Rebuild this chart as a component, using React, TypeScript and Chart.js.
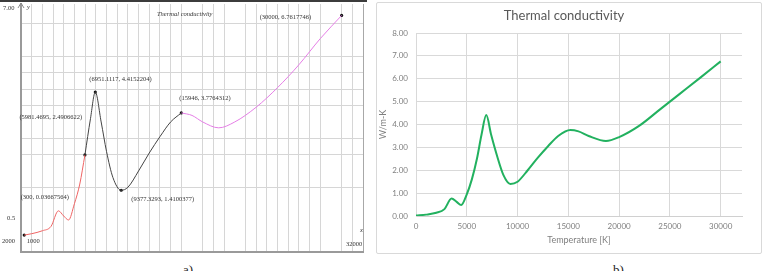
import React, { useEffect, useRef } from "react";
import { Chart, registerables } from "chart.js";
Chart.register(...registerables);

// ---------- Panel a) data ----------
const redX = [300, 1000, 2000, 2800, 3500, 4000, 4450, 5000, 5500, 5981.4695];
const redY = [0.037, 0.08, 0.17, 0.3, 0.78, 0.62, 0.5, 1.0, 1.6, 2.49];
const blackX = [5981.4695, 6500, 6951.1117, 7500, 8000, 8600, 9377.3293, 10000, 11000, 12000, 13000, 14000, 15000];
const blackY = [2.49, 3.6, 4.415, 3.5, 2.6, 1.8, 1.41, 1.5, 2.0, 2.55, 3.05, 3.5, 3.776];
const pinkX = [15000, 16000, 17000, 18500, 20000, 22000, 24000, 26000, 28000, 30000];
const pinkY = [3.776, 3.7, 3.5, 3.32, 3.5, 3.95, 4.55, 5.25, 6.05, 6.76];
const markX = [300, 5981.4695, 6951.1117, 9377.3293, 15000, 30000];
const markY = [0.037, 2.49, 4.415, 1.41, 3.776, 6.76];
const markLabels = [
  "(300, 0.03667564)",
  "(5981.4695, 2.4906622)",
  "(6951.1117, 4.4152204)",
  "(9377.3293, 1.4100377)",
  "(15946, 3.7764312)",
  "(30000, 6.7617746)",
];
const aGridX = [
  1000, 2000, 3000, 4000, 5000, 6000, 7000, 8000, 9000, 10000, 11000, 12000, 13000, 14000, 15000,
  17000, 18000, 19000, 21000, 22000, 23000, 24000, 25000, 26000, 27000, 28000, 30000, 31000, 32000,
];
const aGridY = [1.5, 2.5, 3, 4, 4.5, 5, 5.5, 6.5];
const aTitle = "Thermal conductivity";

// ---------- Panel b) data ----------
const bX = [0, 1000, 2000, 2800, 3500, 4000, 4450, 5000, 5500, 6000, 6450, 6920, 7400, 8000, 8600, 9300, 10000, 11000, 12000, 13000, 14000, 15200, 16000, 17000, 18700, 20000, 22000, 24000, 26000, 28000, 30000];
const bY = [0.02, 0.06, 0.14, 0.3, 0.76, 0.62, 0.48, 0.95, 1.6, 2.5, 3.55, 4.41, 3.55, 2.6, 1.8, 1.4, 1.5, 2.0, 2.55, 3.05, 3.5, 3.76, 3.7, 3.5, 3.28, 3.45, 3.95, 4.65, 5.35, 6.05, 6.76];
const bTicksX = [0, 5000, 10000, 15000, 20000, 25000, 30000];
const bTicksY = [0, 1, 2, 3, 4, 5, 6, 7, 8];
const bTitle = "Thermal conductivity";
const bXTitle = "Temperature [K]";
const bYTitle = "W/m-K";

const SERIF = "'Liberation Serif', 'DejaVu Serif', serif";
const SANS = "Lato, 'Noto Sans', sans-serif";

const pts = (xs: number[], ys: number[]) => xs.map((x, i) => ({ x, y: ys[i] }));

function PanelA() {
  const ref = useRef<HTMLCanvasElement | null>(null);
  useEffect(() => {
    if (!ref.current) return;
    const labelOffsets = [
      [-3.5, -38],
      [-65.5, -38],
      [-6, -13],
      [10, 9],
      [-2, -15],
      [-82, 1.5],
    ];
    const annot = {
      id: "annotA",
      afterDraw(chart: any) {
        const { ctx, scales } = chart;
        const xs = scales.x;
        const ys = scales.y;
        ctx.save();
        ctx.fillStyle = "#3c3c3c";
        ctx.fillRect(0, 0, 367, 2);
        const ax = xs.getPixelForValue(0);
        ctx.strokeStyle = "#8a8a8a";
        ctx.lineWidth = 1;
        ctx.beginPath();
        ctx.moveTo(ax - 3, 8);
        ctx.lineTo(ax, 3);
        ctx.lineTo(ax + 3, 8);
        ctx.stroke();
        ctx.fillStyle = "#333";
        ctx.textBaseline = "middle";
        ctx.textAlign = "left";
        ctx.font = `6.5px ${SERIF}`;
        markLabels.forEach((t, i) => {
          const px = xs.getPixelForValue(markX[i]);
          const py = ys.getPixelForValue(markY[i]);
          ctx.fillText(t, px + labelOffsets[i][0], py + labelOffsets[i][1]);
        });
        ctx.fillText("7.00", 3, ys.getPixelForValue(7) + 1);
        ctx.fillText("0.5", 7, ys.getPixelForValue(0.55));
        ctx.fillText("2000", 2, 241);
        ctx.fillText("1000", xs.getPixelForValue(1000) - 5, 241);
        ctx.fillText("32000", xs.getPixelForValue(32000) - 17, 244);
        ctx.font = `italic 6.5px ${SERIF}`;
        ctx.fillText("y", ax + 6, 7);
        ctx.fillText("x", xs.getPixelForValue(32000) - 3, 230);
        ctx.fillText(aTitle, 157, 14);
        ctx.restore();
      },
    };
    const chart = new Chart(ref.current, {
      type: "line",
      data: {
        datasets: [
          { data: pts(redX, redY), borderColor: "#ef6464", borderWidth: 1, pointRadius: 0, cubicInterpolationMode: "monotone" },
          { data: pts(blackX, blackY), borderColor: "#444444", borderWidth: 1, pointRadius: 0, cubicInterpolationMode: "monotone" },
          { data: pts(pinkX, pinkY), borderColor: "#e57ee6", borderWidth: 1, pointRadius: 0, cubicInterpolationMode: "monotone" },
          { data: pts(markX, markY), showLine: false, pointRadius: 1.6, pointBackgroundColor: "#111", pointBorderWidth: 0 },
        ] as any,
      },
      options: {
        animation: false,
        responsive: false,
        layout: { padding: { left: 21, top: 2, right: 2, bottom: 2 } },
        plugins: { legend: { display: false }, tooltip: { enabled: false } },
        scales: {
          x: {
            type: "linear",
            min: 0,
            max: 32000,
            afterBuildTicks: (s: any) => { s.ticks = aGridX.map((v) => ({ value: v })); },
            ticks: { display: false },
            grid: { color: (c: any) => (c.tick && c.tick.value === 32000 ? "#a8a8a8" : "#d6d6d6"), drawTicks: false },
            border: { color: "#9a9a9a", width: 2 },
            afterFit: (s: any) => { s.height = 0; },
          },
          y: {
            type: "linear",
            min: -0.48,
            max: 7.11,
            afterBuildTicks: (s: any) => { s.ticks = aGridY.map((v) => ({ value: v })); },
            ticks: { display: false },
            grid: { color: "#d6d6d6", drawTicks: false },
            border: { color: "#9a9a9a", width: 2 },
            afterFit: (s: any) => { s.width = 0; },
          },
        },
      } as any,
      plugins: [annot],
    });
    return () => chart.destroy();
  }, []);
  return (
    <div style={{ position: "absolute", left: 0, top: 0, width: 367, height: 256 }}>
      <canvas ref={ref} width={367} height={256} style={{ width: 367, height: 256, display: "block" }} />
    </div>
  );
}

function PanelB() {
  const ref = useRef<HTMLCanvasElement | null>(null);
  useEffect(() => {
    if (!ref.current) return;
    const titlePlugin = {
      id: "titleB",
      afterDraw(chart: any) {
        const { ctx } = chart;
        ctx.save();
        ctx.fillStyle = "#595959";
        ctx.font = `13px ${SANS}`;
        ctx.textAlign = "center";
        ctx.textBaseline = "middle";
        ctx.fillText(bTitle, 187, 13);
        ctx.restore();
      },
    };
    const chart = new Chart(ref.current, {
      type: "line",
      data: {
        datasets: [
          { data: pts(bX, bY), borderColor: "#22b15f", borderWidth: 2, pointRadius: 0, cubicInterpolationMode: "monotone" },
        ] as any,
      },
      options: {
        animation: false,
        responsive: false,
        layout: { padding: { left: 0, top: 30, right: 19, bottom: 0 } },
        plugins: { legend: { display: false }, tooltip: { enabled: false } },
        scales: {
          x: {
            type: "linear",
            min: 0,
            max: 32100,
            afterBuildTicks: (s: any) => { s.ticks = bTicksX.map((v) => ({ value: v })); },
            ticks: { color: "#7f7f7f", font: { size: 8, family: SANS }, padding: 6, maxRotation: 0, autoSkip: false, callback: (v: any) => String(v) },
            grid: { color: "#d9d9d9", drawTicks: false },
            border: { color: "#d0d0d0" },
            title: { display: true, text: bXTitle, color: "#7f7f7f", font: { size: 9, family: SANS }, padding: { top: 0, bottom: 8 } },
            afterFit: (s: any) => { s.height = 37; },
          },
          y: {
            type: "linear",
            min: 0,
            max: 8,
            afterBuildTicks: (s: any) => { s.ticks = bTicksY.map((v) => ({ value: v })); },
            ticks: { color: "#7f7f7f", font: { size: 8, family: SANS }, padding: 8, callback: (v: any) => Number(v).toFixed(2) },
            grid: { color: "#d9d9d9", drawTicks: false },
            border: { color: "#d9d9d9" },
            title: { display: true, text: bYTitle, color: "#7f7f7f", font: { size: 9, family: SANS }, padding: { top: 1, bottom: 0 } },
            afterFit: (s: any) => { s.width = 39; },
          },
        },
      } as any,
      plugins: [titlePlugin],
    });
    return () => chart.destroy();
  }, []);
  return (
    <div style={{ position: "absolute", left: 376, top: 2, width: 386, height: 252, border: "1px solid #d9d9d9", boxSizing: "border-box", borderRadius: 2 }}>
      <canvas ref={ref} width={384} height={250} style={{ width: 384, height: 250, display: "block" }} />
    </div>
  );
}

export default function App() {
  return (
    <div style={{ position: "absolute", left: 0, top: 0, width: 763, height: 271, background: "#fff", overflow: "hidden" }}>
      <PanelA />
      <PanelB />
      <div style={{ position: "absolute", left: 183, top: 263, font: `13px ${SERIF}`, color: "#222", lineHeight: "13px" }}>a)</div>
      <div style={{ position: "absolute", left: 613, top: 263, font: `13px ${SERIF}`, color: "#222", lineHeight: "13px" }}>b)</div>
    </div>
  );
}
